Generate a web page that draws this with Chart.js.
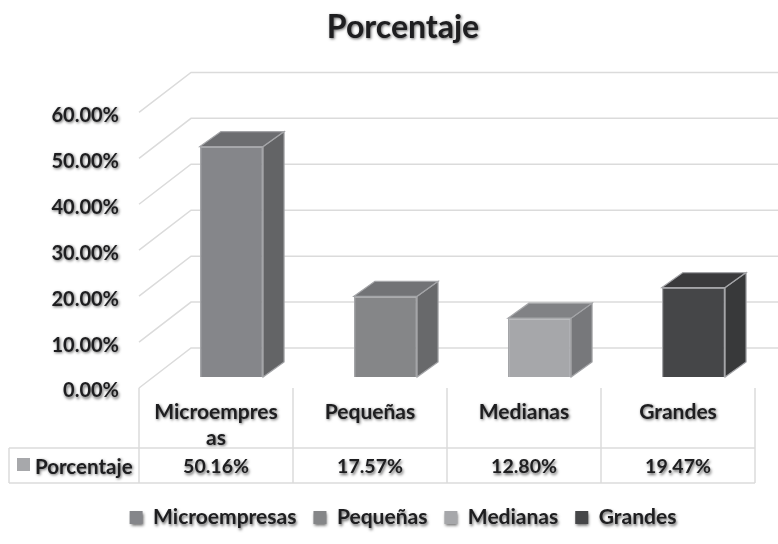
<!DOCTYPE html>
<html lang="es">
<head>
<meta charset="utf-8">
<title>Porcentaje</title>
<script src="https://cdn.jsdelivr.net/npm/chart.js@4/dist/chart.umd.min.js"></script>
<style>
  html, body { margin: 0; padding: 0; background: #ffffff; }
  #wrap { width: 778px; height: 544px; }
</style>
</head>
<body>
<div id="wrap"><canvas id="chart" width="778" height="544"></canvas></div>
<script>
// Data
const chartTitle = 'Porcentaje';
const seriesName = 'Porcentaje';
const categories = ['Microempresas', 'Pequeñas', 'Medianas', 'Grandes'];
const axisLabels = [['Microempres', 'as'], ['Pequeñas'], ['Medianas'], ['Grandes']];
const values = [50.16, 17.57, 12.80, 19.47];

// Colours of each box: front, side and top faces
const frontColors = ['#85868a', '#858688', '#a6a7aa', '#454648'];
const sideColors = ['#636466', '#68696b', '#77787b', '#38393a'];
const topColors = ['#6c6d70', '#727376', '#818285', '#3a3a3c'];
const edgeColor = '#a4a5a8';
const gridColor = '#dbdbdb';
const textColor = '#1e1e20';
const seriesSwatch = '#a7a8ab';

// Perspective offsets
const floorLift = -3;
const wallDepth = { x: 52, y: -40 };
const barShift = { x: 15.5, y: -14 };
const barDepth = { x: 21, y: -15 };
const fontFamily = 'Lato, "Open Sans", sans-serif';

const fmt = v => v.toFixed(2) + '%';

function setTextShadow(ctx) {
  ctx.shadowColor = 'rgba(0,0,0,0.6)';
  ctx.shadowBlur = 3;
  ctx.shadowOffsetX = 1;
  ctx.shadowOffsetY = 1.5;
}
function clearShadow(ctx) {
  ctx.shadowColor = 'rgba(0,0,0,0)';
  ctx.shadowBlur = 0;
  ctx.shadowOffsetX = 0;
  ctx.shadowOffsetY = 0;
}
function face(ctx, pts, fill) {
  ctx.beginPath();
  pts.forEach((p, i) => i ? ctx.lineTo(p[0], p[1]) : ctx.moveTo(p[0], p[1]));
  ctx.closePath();
  ctx.fillStyle = fill;
  ctx.fill();
  ctx.lineWidth = 1.2;
  ctx.strokeStyle = edgeColor;
  ctx.stroke();
}

// Back wall, floor diagonals and the depth faces of the boxes
const box3d = {
  id: 'box3d',
  beforeDraw(chart) {
    setTextShadow(chart.ctx);
  },
  beforeDatasetsDraw(chart) {
    const { ctx, scales, chartArea } = chart;
    clearShadow(ctx);
    ctx.save();
    ctx.strokeStyle = gridColor;
    ctx.lineWidth = 1.5;
    scales.y.ticks.forEach(t => {
      const y = scales.y.getPixelForValue(t.value) + floorLift;
      ctx.beginPath();
      ctx.moveTo(chartArea.left, y);
      ctx.lineTo(chartArea.left + wallDepth.x, y + wallDepth.y);
      ctx.lineTo(chart.width, y + wallDepth.y);
      ctx.stroke();
    });
    ctx.restore();

    ctx.save();
    ctx.translate(barShift.x, barShift.y);
    chart.getDatasetMeta(0).data.forEach((bar, i) => {
      const l = bar.x - bar.width / 2, r = bar.x + bar.width / 2;
      const t = bar.y, b = bar.base;
      const dx = barDepth.x, dy = barDepth.y;
      face(ctx, [[r, t], [r + dx, t + dy], [r + dx, b + dy], [r, b]], sideColors[i]);
      face(ctx, [[l, t], [l + dx, t + dy], [r + dx, t + dy], [r, t]], topColors[i]);
    });
  },
  afterDatasetsDraw(chart) {
    chart.ctx.restore();
  },
  // Data table under the plot
  afterDraw(chart) {
    const { ctx, scales, chartArea } = chart;
    const rowTop = 448, rowBottom = 483, tableLeft = 9;
    const tableTop = chartArea.bottom + floorLift;
    const half = (chartArea.right - chartArea.left) / categories.length / 2;
    clearShadow(ctx);
    ctx.save();
    ctx.strokeStyle = gridColor;
    ctx.lineWidth = 1.5;
    ctx.beginPath();
    [rowTop, rowBottom].forEach(y => {
      ctx.moveTo(tableLeft, y);
      ctx.lineTo(chartArea.right, y);
    });
    ctx.moveTo(tableLeft, rowTop);
    ctx.lineTo(tableLeft, rowBottom);
    categories.forEach((c, i) => {
      const x = scales.x.getPixelForValue(i) - half;
      ctx.moveTo(x, tableTop);
      ctx.lineTo(x, rowBottom);
    });
    ctx.moveTo(chartArea.right, tableTop);
    ctx.lineTo(chartArea.right, rowBottom);
    ctx.stroke();

    ctx.fillStyle = seriesSwatch;
    ctx.fillRect(17, 458, 13, 13);

    setTextShadow(ctx);
    ctx.fillStyle = textColor;
    ctx.textBaseline = 'middle';
    ctx.textAlign = 'left';
    ctx.font = 'bold 20.5px ' + fontFamily;
    ctx.fillText(seriesName, 35, 467);
    ctx.font = 'bold 19.5px ' + fontFamily;
    ctx.textAlign = 'center';
    values.forEach((v, i) => ctx.fillText(fmt(v), scales.x.getPixelForValue(i), 467));
    ctx.restore();
    clearShadow(ctx);
  }
};

new Chart(document.getElementById('chart'), {
  type: 'bar',
  data: {
    labels: axisLabels,
    datasets: [{
      label: seriesName,
      data: values,
      backgroundColor: frontColors,
      borderColor: edgeColor,
      borderWidth: 1.2,
      barPercentage: 0.41,
      categoryPercentage: 1,
      clip: false
    }]
  },
  options: {
    responsive: false,
    animation: false,
    layout: { padding: { left: 28, right: 0, top: 0, bottom: 6 } },
    scales: {
      x: {
        grid: { display: false, drawTicks: false },
        border: { display: false },
        afterFit(s) { s.height = 99; },
        ticks: {
          maxRotation: 0,
          minRotation: 0,
          autoSkip: false,
          padding: 8,
          color: textColor,
          font: { family: fontFamily, weight: 'bold', size: 21, lineHeight: 1.24 }
        }
      },
      y: {
        min: 0,
        max: 60,
        grid: { display: false, drawTicks: false },
        border: { display: false },
        afterFit(s) { s.width = 111; },
        ticks: {
          stepSize: 10,
          padding: 20,
          color: textColor,
          font: { family: fontFamily, weight: 'bold', size: 20 },
          callback: v => fmt(v)
        }
      },
      gutter: {
        position: 'right',
        min: 0,
        max: 1,
        grid: { display: false },
        border: { display: false },
        ticks: { display: false },
        afterFit(s) { s.width = 23; }
      }
    },
    plugins: {
      tooltip: { enabled: false },
      title: {
        display: true,
        text: chartTitle,
        color: textColor,
        font: { family: fontFamily, weight: 'bold', size: 32, lineHeight: 1.2 },
        padding: { top: 8, bottom: 69 }
      },
      legend: {
        position: 'bottom',
        labels: {
          boxWidth: 13,
          boxHeight: 13,
          padding: 17,
          color: textColor,
          font: { family: fontFamily, weight: 'bold', size: 21 },
          generateLabels: () => categories.map((c, i) => ({
            text: c,
            fillStyle: frontColors[i],
            strokeStyle: frontColors[i],
            lineWidth: 0,
            fontColor: textColor,
            index: i
          }))
        }
      }
    }
  },
  plugins: [box3d]
});
</script>
</body>
</html>
